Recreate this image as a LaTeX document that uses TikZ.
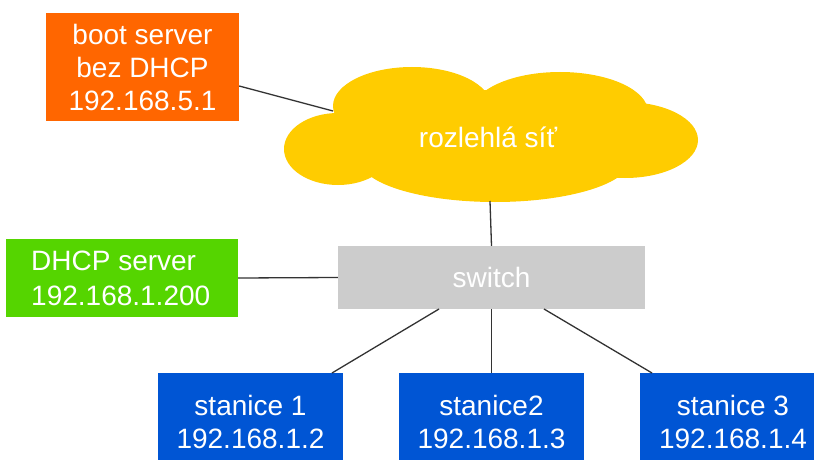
\documentclass[tikz,border=0pt]{standalone}
\usepackage{fontspec}
\setmainfont{Liberation Sans}
\definecolor{bootorange}{HTML}{FF6600}
\definecolor{cloudyellow}{HTML}{FFCC00}
\definecolor{switchgray}{HTML}{CCCCCC}
\definecolor{dhcpgreen}{HTML}{55D500}
\definecolor{hostblue}{HTML}{0055D4}
\definecolor{wire}{HTML}{333333}
\begin{document}
\begin{tikzpicture}[x=1pt,y=-1pt,
  box/.style={rectangle, inner sep=0pt, text=white, align=center,
    font=\fontsize{28}{33}\selectfont},
  link/.style={draw=wire, line width=1.3pt}]
\useasboundingbox (0,0) rectangle (814,460);
\clip (0,0) rectangle (814,460);

% wide-area network cloud
\begin{scope}[fill=cloudyellow]
  \fill (338,149) ellipse [x radius=54, y radius=36];
  \fill (412,106) ellipse [x radius=79, y radius=39];
  \fill (560,112) ellipse [x radius=88, y radius=40];
  \fill (625,140) ellipse [x radius=73, y radius=38];
  \fill (495,160) ellipse [x radius=135, y radius=42];
  \fill (470,130) ellipse [x radius=150, y radius=40];
\end{scope}
\node[box] (cloud) at (488,137) {rozlehlá síť};
\coordinate (cloudL) at (333,111);
\coordinate (cloudB) at (490,201);

% servers and switch
\node[box, fill=bootorange, minimum width=193pt, minimum height=108pt]
  (boot) at (142.5,67) {boot server\\bez DHCP\\192.168.5.1};
\node[box, fill=switchgray, minimum width=307pt, minimum height=63pt]
  (sw) at (491.5,277.5) {switch};
\node[box, fill=dhcpgreen, minimum width=232pt, minimum height=78pt]
  (dhcp) at (122,278) {};
\node[box, anchor=west, align=left, font=\fontsize{28}{35}\selectfont]
  (dhcptext) at (31,278) {DHCP server\\192.168.1.200};

% stations
\node[box, fill=hostblue, minimum width=185pt, minimum height=97pt]
  (st1) at (250.5,421.5) {stanice 1\\192.168.1.2};
\node[box, fill=hostblue, minimum width=185pt, minimum height=97pt]
  (st2) at (491.5,421.5) {stanice2\\192.168.1.3};
\node[box, fill=hostblue, minimum width=186pt, minimum height=97pt]
  (st3) at (733,421.5) {stanice 3\\192.168.1.4};

% attachment points on the switch and stations
\coordinate (swA) at (439,309);
\coordinate (swC) at (544,309);
\coordinate (st1T) at (332,373);
\coordinate (st3T) at (652,373);

% cabling
\draw[link] (boot.east |- 0,86) -- (cloudL);
\draw[link] (cloudB) -- (sw.north);
\draw[link] (dhcp.east) -- (sw.west);
\draw[link] (swA) -- (st1T);
\draw[link] (sw.south) -- (st2.north);
\draw[link] (swC) -- (st3T);
\end{tikzpicture}
\end{document}
